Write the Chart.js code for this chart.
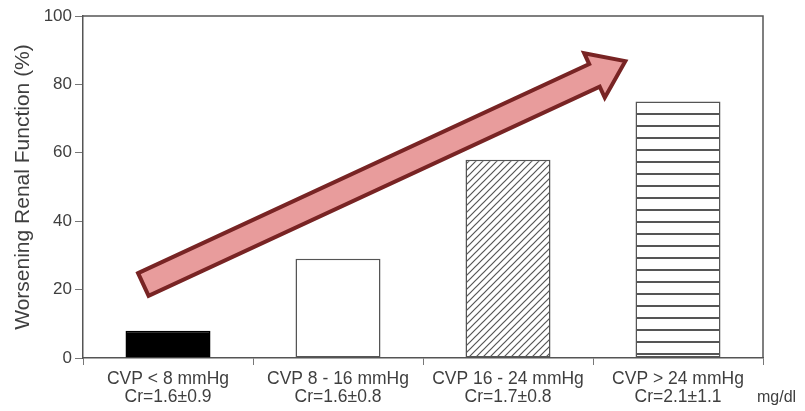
<!DOCTYPE html>
<html>
<head>
<meta charset="utf-8">
<script src="https://cdn.jsdelivr.net/npm/chart.js@4.4.1/dist/chart.umd.min.js"></script>
<style>
  html, body { margin: 0; padding: 0; background: #fff; }
  #wrap { width: 805px; height: 411px; }
</style>
</head>
<body>
<div id="wrap"><canvas id="wrfChart" width="805" height="411"></canvas></div>
<script>
// data
const cvpGroups = ["CVP < 8 mmHg", "CVP 8 - 16 mmHg", "CVP 16 - 24 mmHg", "CVP > 24 mmHg"];
const creatinine = ["Cr=1.6±0.9", "Cr=1.6±0.8", "Cr=1.7±0.8", "Cr=2.1±1.1"];
const wrfPercent = [8, 29, 58, 75];
const yTicks = [0, 20, 40, 60, 80, 100];
// trend arrow, in axis units (category index, %)
const arrowFrom = [-0.145, 21.5];
const arrowTo = [2.69, 86.8];

const FONT = '"Liberation Sans", Arial, sans-serif';
const INK = "#3f3f3f";

// fill patterns for the bars
function diagPattern() {
  const c = document.createElement("canvas");
  c.width = 7; c.height = 7;
  const g = c.getContext("2d");
  g.fillStyle = "#fff";
  g.fillRect(0, 0, 7, 7);
  g.strokeStyle = "#555";
  g.lineWidth = 1.2;
  g.beginPath();
  g.moveTo(-1, 8); g.lineTo(8, -1);
  g.moveTo(-1, 1); g.lineTo(1, -1);
  g.moveTo(6, 8); g.lineTo(8, 6);
  g.stroke();
  return g.createPattern(c, "repeat");
}
function stripePattern() {
  const c = document.createElement("canvas");
  c.width = 4; c.height = 12;
  const g = c.getContext("2d");
  g.fillStyle = "#fff";
  g.fillRect(0, 0, 4, 12);
  g.fillStyle = "#555";
  g.fillRect(0, 5, 4, 2);
  return g.createPattern(c, "repeat");
}

const framePlugin = {
  id: "frame",
  beforeDatasetsDraw(chart) {
    const { ctx, chartArea: a } = chart;
    ctx.save();
    ctx.strokeStyle = "#555";
    ctx.lineWidth = 1.5;
    ctx.beginPath();
    ctx.moveTo(a.left, a.top);
    ctx.lineTo(a.right, a.top);
    ctx.lineTo(a.right, a.bottom);
    ctx.stroke();
    // unit note beside the last category label
    ctx.fillStyle = INK;
    ctx.font = "16px " + FONT;
    ctx.textAlign = "left";
    ctx.textBaseline = "middle";
    ctx.fillText("mg/dl", a.right - 6, 398);
    ctx.restore();
  }
};

const arrowPlugin = {
  id: "trendArrow",
  afterDatasetsDraw(chart) {
    const { ctx, scales } = chart;
    const x0 = scales.x.getPixelForValue(arrowFrom[0]);
    const y0 = scales.y.getPixelForValue(arrowFrom[1]);
    const x1 = scales.x.getPixelForValue(arrowTo[0]);
    const y1 = scales.y.getPixelForValue(arrowTo[1]);
    const len = Math.hypot(x1 - x0, y1 - y0);
    const shaft = 25, head = 49, headLen = 34;
    ctx.save();
    ctx.translate(x0, y0);
    ctx.rotate(Math.atan2(y1 - y0, x1 - x0));
    ctx.beginPath();
    ctx.moveTo(0, -shaft / 2);
    ctx.lineTo(len - headLen, -shaft / 2);
    ctx.lineTo(len - headLen, -head / 2);
    ctx.lineTo(len, 0);
    ctx.lineTo(len - headLen, head / 2);
    ctx.lineTo(len - headLen, shaft / 2);
    ctx.lineTo(0, shaft / 2);
    ctx.closePath();
    ctx.fillStyle = "#e89c9c";
    ctx.fill();
    ctx.strokeStyle = "#782424";
    ctx.lineWidth = 4;
    ctx.lineJoin = "miter";
    ctx.stroke();
    ctx.restore();
  }
};

const ctx = document.getElementById("wrfChart").getContext("2d");
new Chart(ctx, {
  type: "bar",
  data: {
    labels: cvpGroups.map((g, i) => [g, creatinine[i]]),
    datasets: [
      {
        data: wrfPercent,
        backgroundColor: ["#000", "#fff", diagPattern(), stripePattern()],
        borderColor: ["#000", "#555", "#555", "#555"],
        borderWidth: 1.5,
        borderSkipped: false,
        barPercentage: 0.5,
        categoryPercentage: 1.0,
      },
    ],
  },
  options: {
    responsive: false,
    animation: false,
    events: [],
    layout: { padding: { top: 16, right: 42, left: 0, bottom: 0 } },
    plugins: { legend: { display: false }, tooltip: { enabled: false } },
    scales: {
      x: {
        offset: true,
        grid: { offset: true, drawOnChartArea: false, tickLength: 7, color: "#777", lineWidth: 1 },
        border: { color: "#555", width: 1.5 },
        ticks: { color: INK, font: { family: FONT, size: 17.5, lineHeight: 0.98 }, padding: 6, maxRotation: 0 },
        afterFit(scale) { scale.height = 53; },
      },
      y: {
        min: 0,
        max: 100,
        afterBuildTicks(scale) { scale.ticks = yTicks.map(v => ({ value: v })); },
        grid: { drawOnChartArea: false, tickLength: 8, color: "#777" },
        border: { color: "#555", width: 1.5 },
        ticks: { color: INK, font: { family: FONT, size: 17 }, padding: 3 },
        title: {
          display: true,
          text: "Worsening Renal Function (%)",
          color: INK,
          font: { family: FONT, size: 21 },
          padding: { top: 11, bottom: 0 },
        },
        afterFit(scale) { scale.width = 83; },
      },
    },
  },
  plugins: [framePlugin, arrowPlugin],
});
</script>
</body>
</html>
